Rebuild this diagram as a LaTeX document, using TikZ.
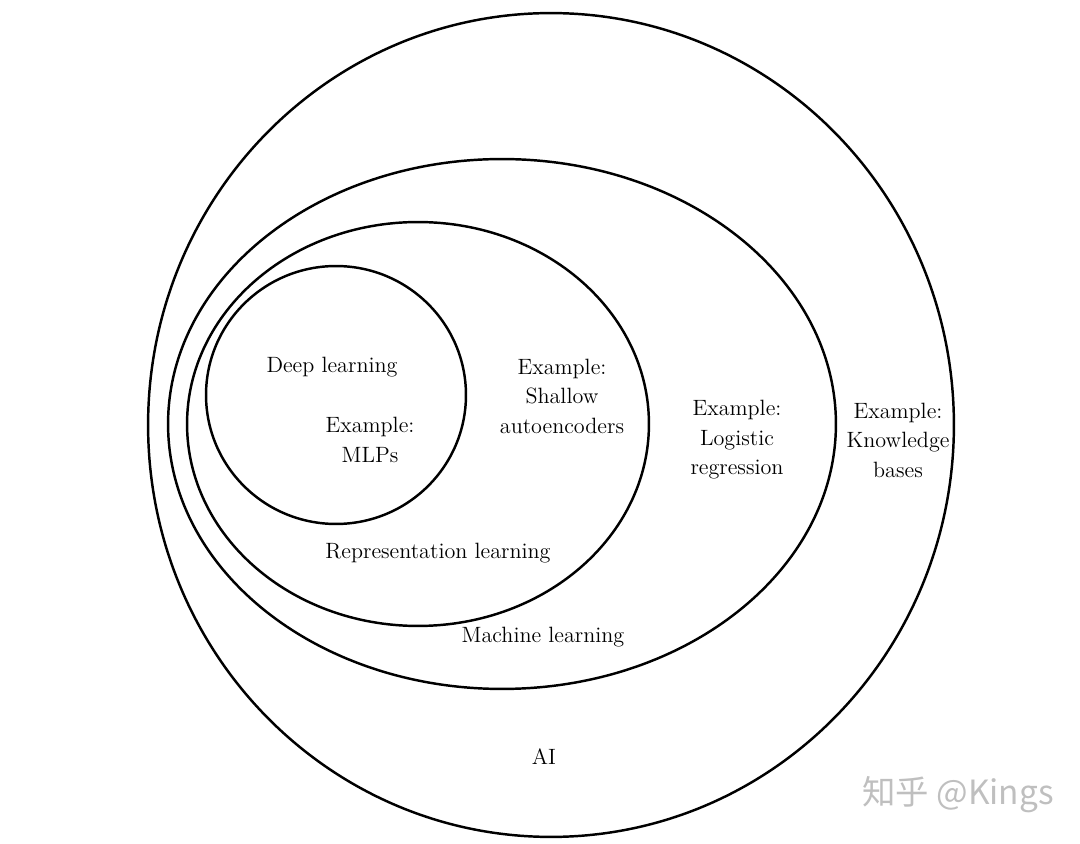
\documentclass[tikz,border=0pt]{standalone}
\usepackage{fontspec}
\newfontfamily\cjkfont{Noto Sans CJK SC}
\usepackage{tikz}
\usetikzlibrary{shapes.geometric}

\begin{document}
\begin{tikzpicture}[x=0.02cm,y=-0.02cm,
  region/.style={ellipse,draw=black,line width=1.4pt,inner sep=0pt},
  lbl/.style={align=center,font=\fontsize{12.6}{16.8}\selectfont}]
\useasboundingbox (0,0) rectangle (1080,844);
% nested regions, outermost first
\node[region,minimum width=16.12cm,minimum height=16.48cm] (ai) at (551,425) {};
\node[region,minimum width=13.36cm,minimum height=10.6cm] (ml) at (502,424) {};
\node[region,minimum width=9.24cm,minimum height=8.08cm] (rl) at (418,424) {};
\node[region,minimum width=5.2cm,minimum height=5.16cm] (dl) at (336,395) {};
% region names
\node[lbl] (dlname) at (332,367) {Deep learning};
\node[lbl] (rlname) at (438,553) {Representation learning};
\node[lbl] (mlname) at (543,637) {Machine learning};
\node[lbl] (ainame) at (544,757) {AI};
% examples
\node[lbl] (dlex) at (370,440) {Example:\\MLPs};
\node[lbl] (rlex) at (562,396) {Example:\\Shallow\\autoencoders};
\node[lbl] (mlex) at (737,440) {Example:\\Logistic\\regression};
\node[lbl] (aiex) at (898,440) {Example:\\Knowledge\\bases};
% watermark
\node[text=gray!50,font=\cjkfont\fontsize{19}{19}\selectfont] (mark) at (958,795) {知乎 @Kings};
\end{tikzpicture}
\end{document}
